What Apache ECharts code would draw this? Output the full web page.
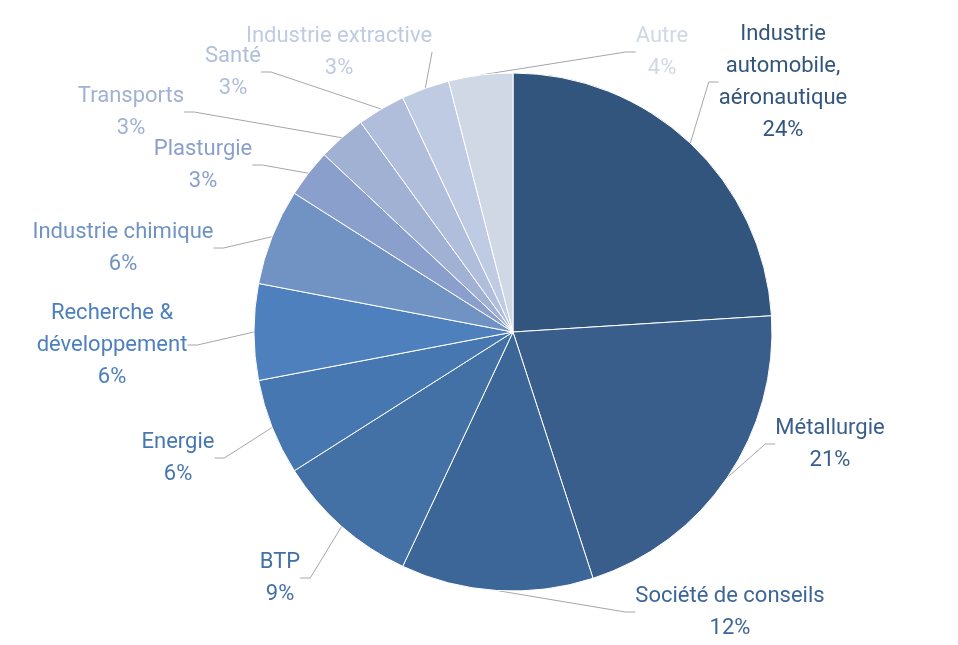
<!DOCTYPE html>
<html><head><meta charset="utf-8">
<script src="https://cdn.jsdelivr.net/npm/echarts@6/dist/echarts.min.js"></script>
<style>html,body{margin:0;padding:0;background:#fff}#c{width:958px;height:645px}</style>
</head><body><div id="c"></div>
<script>
const categories = ['Industrie\nautomobile,\naéronautique','Métallurgie','Société de conseils','BTP','Energie','Recherche &\ndéveloppement','Industrie chimique','Plasturgie','Transports','Santé','Industrie extractive','Autre'];
const values = [24,21,12,9,6,6,6,3,3,3,3,4];
const colors = ['#32557d','#395e8c','#3d6698','#4371a6','#4777b0','#4e80bd','#7193c4','#8b9fcc','#a0b1d3','#b0bedb','#bfcbe2','#d0d8e6'];
const labelPos = [[783,82],[830,444],[730,612],[280,578],[178,458],[112,345],[123,248],[203,165],[131,112],[233,72],[339,52],[662,52]];
const chart = echarts.init(document.getElementById('c'));
chart.setOption({
  animation:false,
  series:[{
    type:'pie', center:[513,332], radius:259, startAngle:90, clockwise:true,
    data: categories.map((n,i)=>({name:n,value:values[i],itemStyle:{color:colors[i]},label:{color:colors[i]}})),
    itemStyle:{borderColor:'#fff',borderWidth:1},
    label:{show:true,position:'outside',formatter:'{b}\n{d}%',fontFamily:'Roboto',fontSize:22,lineHeight:32,align:'center'},
    labelLine:{show:true,length:20,length2:10,lineStyle:{color:'#a6a6a6',width:1}},
    labelLayout:function(p){const q=labelPos[p.dataIndex];return {x:q[0],y:q[1],align:'center',verticalAlign:'middle'};}
  }]
});
</script></body></html>
